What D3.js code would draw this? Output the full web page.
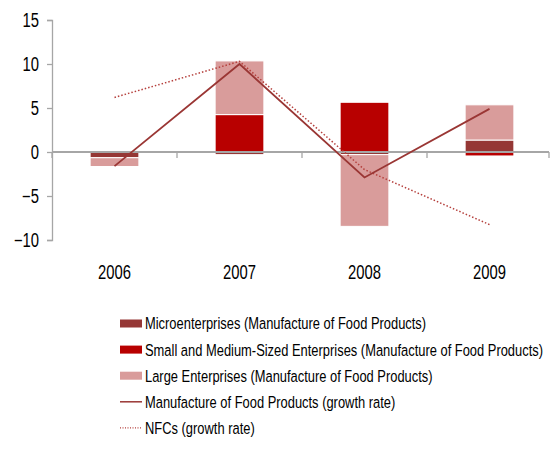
<!DOCTYPE html>
<html>
<head>
<meta charset="utf-8">
<script src="https://cdn.jsdelivr.net/npm/d3@7"></script>
<style>
  html, body { margin: 0; padding: 0; background: #fff; }
  svg text { font-family: "Liberation Sans", Arial, sans-serif; fill: #000; }
</style>
</head>
<body>
<svg id="chart" width="558" height="451"></svg>
<script>
// Contributions to the growth of the food-manufacturing sector, by firm size
const years = ["2006", "2007", "2008", "2009"];
const micro = [-0.65, -0.3, -0.3, 1.36];
const sme = [0.0, 4.25, 5.65, -0.45];
const large = [-1.0, 6.1, -8.15, 4.0];
const foodGrowth = [-1.6, 10.0, -2.9, 4.9];
const nfcGrowth = [6.2, 10.3, -2.0, -8.25];
const yTicks = [-10, -5, 0, 5, 10, 15];

const seriesKeys = ["micro", "sme", "large"];
const seriesNames = {
  micro: "Microenterprises (Manufacture of Food Products)",
  sme: "Small and Medium-Sized Enterprises (Manufacture of Food Products)",
  large: "Large Enterprises (Manufacture of Food Products)"
};
const colors = { micro: "#953735", sme: "#B80000", large: "#D99C9B" };
const lineColor = "#9A3634";
const nfcColor = "#B5403D";

const rows = years.map((y, i) => ({ year: y, micro: micro[i], sme: sme[i], large: large[i] }));
const stacked = d3.stack().keys(seriesKeys).offset(d3.stackOffsetDiverging)(rows);

const svg = d3.select("#chart");
const x = d3.scaleBand().domain(years).range([52, 552]).paddingInner(0.61).paddingOuter(0.305);
const xc = d => x(d) + x.bandwidth() / 2;
const y = d3.scaleLinear().domain([-10, 15]).range([240, 20]);
const axisColor = "#A6A6A6";

// condensed text: the narrow face is drawn by squeezing a regular sans horizontally
const SQUEEZE = 0.76;
function narrowText(parent, tx, ty, str, size, anchor) {
  const g = parent.append("g").attr("transform", `translate(${tx},${ty}) scale(${SQUEEZE},1)`);
  return g.append("text").attr("x", 0).attr("y", 0).attr("dy", "0.35em")
    .attr("text-anchor", anchor || "start").attr("font-size", size).text(str);
}

// bars
svg.append("g").selectAll("g").data(stacked).join("g")
  .attr("fill", d => colors[d.key])
  .selectAll("rect").data(d => d).join("rect")
  .attr("x", d => x(d.data.year))
  .attr("width", x.bandwidth())
  .attr("y", d => y(Math.max(d[0], d[1])))
  .attr("height", d => Math.abs(y(d[0]) - y(d[1])))
  .attr("stroke", "#fff")
  .attr("stroke-width", 1);

// y axis
const yAxis = svg.append("g").attr("transform", "translate(52,0)")
  .call(d3.axisLeft(y).tickValues(yTicks).tickSize(5).tickFormat(""));
yAxis.select(".domain").attr("stroke", axisColor).attr("stroke-width", 1.3);
yAxis.selectAll(".tick line").attr("stroke", axisColor).attr("stroke-width", 1.3);
const yLab = svg.append("g");
yTicks.forEach(t => narrowText(yLab, 39, y(t), d3.format("d")(t), 19.5, "end"));

// x axis along zero, ticks between categories
const xAxisG = svg.append("g").attr("transform", `translate(0,${y(0)})`);
xAxisG.append("line").attr("x1", 52).attr("x2", 549).attr("y1", 0).attr("y2", 0)
  .attr("stroke", axisColor).attr("stroke-width", 2);
const boundaries = years.map(d => x(d) - x.step() * x.paddingInner() / 2).concat([549]);
xAxisG.selectAll("line.tk").data(boundaries).join("line").attr("class", "tk")
  .attr("x1", d => d).attr("x2", d => d).attr("y1", 0).attr("y2", 6)
  .attr("stroke", axisColor).attr("stroke-width", 1.3);
const xLab = svg.append("g");
years.forEach(yr => narrowText(xLab, xc(yr), 272, yr, 19.5, "middle"));

// growth lines
const line = d3.line().x((d, i) => xc(years[i])).y(d => y(d));
svg.append("path").datum(nfcGrowth).attr("d", line)
  .attr("fill", "none").attr("stroke", nfcColor).attr("stroke-width", 1.5)
  .attr("stroke-dasharray", "1.5,2");
svg.append("path").datum(foodGrowth).attr("d", line)
  .attr("fill", "none").attr("stroke", lineColor).attr("stroke-width", 1.8);

// legend
const legendItems = [
  { type: "box", color: colors.micro, label: seriesNames.micro },
  { type: "box", color: colors.sme, label: seriesNames.sme },
  { type: "box", color: colors.large, label: seriesNames.large },
  { type: "line", color: lineColor, label: "Manufacture of Food Products (growth rate)" },
  { type: "dot", color: nfcColor, label: "NFCs (growth rate)" }
];
const lg = svg.append("g");
legendItems.forEach((it, i) => {
  const cy = 323.5 + i * 26.1;
  if (it.type === "box") {
    lg.append("rect").attr("x", 120).attr("y", cy - 4).attr("width", 22).attr("height", 8).attr("fill", it.color);
  } else {
    lg.append("line").attr("x1", 120).attr("x2", 142).attr("y1", cy).attr("y2", cy)
      .attr("stroke", it.color).attr("stroke-width", it.type === "line" ? 1.5 : 1.2)
      .attr("stroke-dasharray", it.type === "dot" ? "1,1.5" : null);
  }
  narrowText(lg, 145, cy, it.label, 17, "start");
});
</script>
</body>
</html>
